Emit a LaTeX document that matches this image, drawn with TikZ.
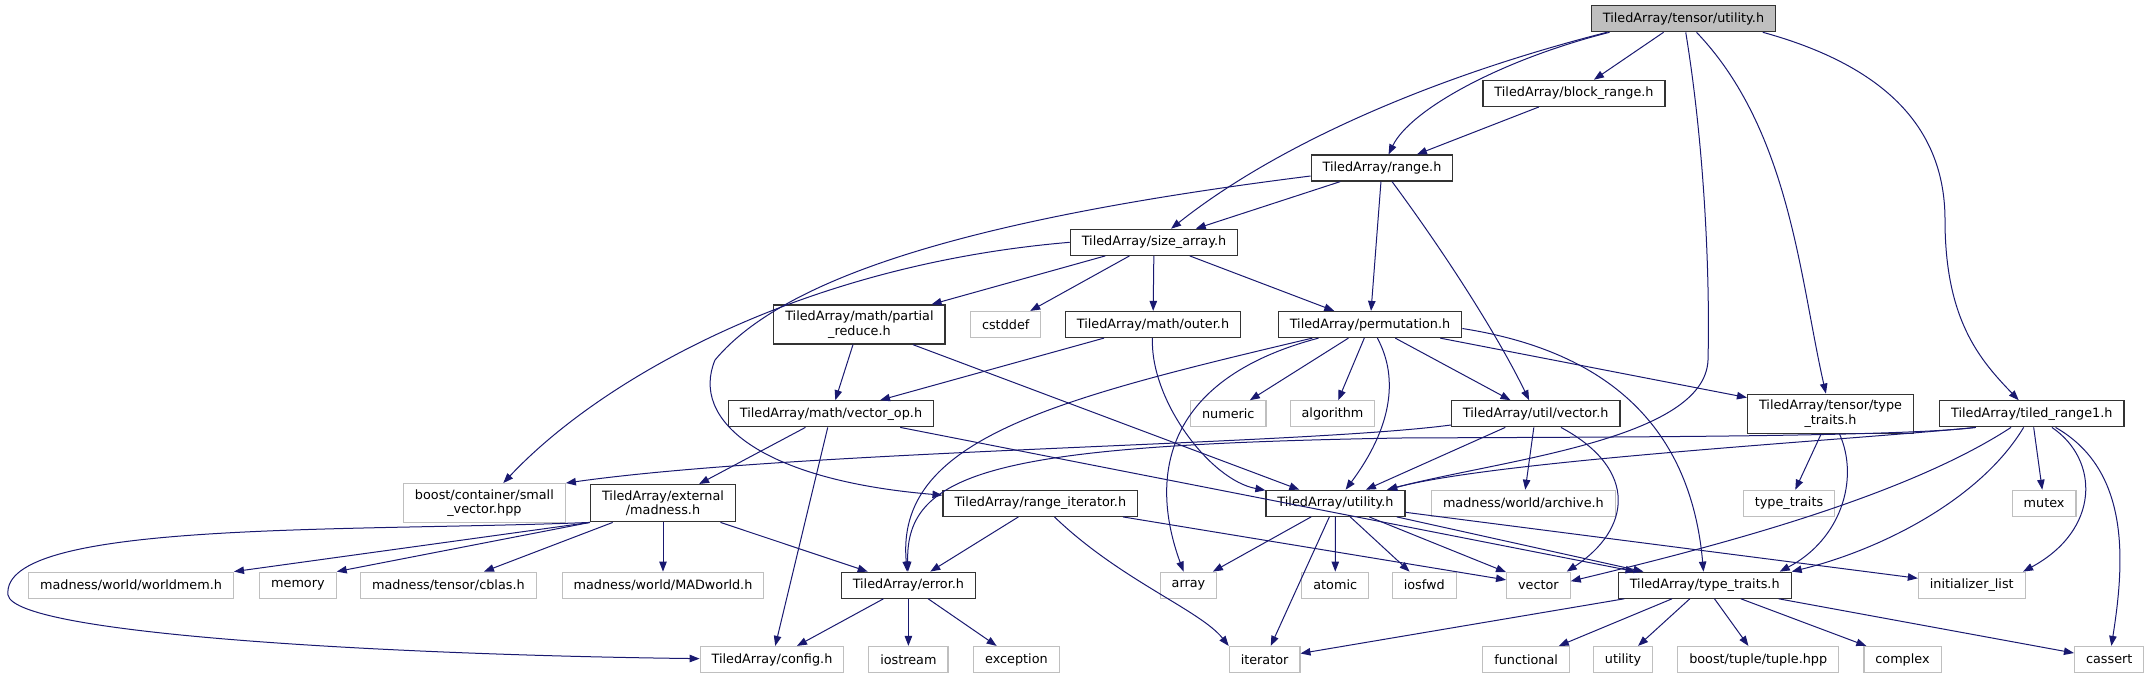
\documentclass[tikz,border=0pt]{standalone}
\usepackage{fontspec}
\setmainfont{DejaVu Sans}
\usetikzlibrary{arrows.meta}
\definecolor{edgeblue}{HTML}{191970}
\definecolor{lightgray}{HTML}{BFBFBF}

\begin{document}
\begin{tikzpicture}[
    x=0.75pt, y=-0.75pt,
    every node/.style={draw=black!80, line width=0.9pt, rectangle, align=center, fill=white, inner xsep=8.6pt, inner ysep=4.5pt, minimum height=19.5pt, font=\fontsize{9.6}{10.75}\selectfont},
    ext/.style={draw=lightgray},
    root/.style={fill=lightgray},
    arrow/.style={-{Triangle[length=7.5pt,width=5.6pt]}, line width=0.75pt, draw=edgeblue}
]
  \useasboundingbox (0,0) rectangle (2149,679);

  \node[root] (tu) at (1683.5,18.7) {TiledArray/tensor/utility.h};
  \node (blockrange) at (1574,93.3) {TiledArray/block\_range.h};
  \node (range) at (1382,168) {TiledArray/range.h};
  \node (sizearray) at (1154,242.3) {TiledArray/size\_array.h};

  \node (partial) at (859.4,324.5) {TiledArray/math/partial\\\_reduce.h};
  \node[ext] (cstddef) at (1005.7,324.5) {cstddef};
  \node (outer) at (1153,324.5) {TiledArray/math/outer.h};
  \node (perm) at (1370,324.5) {TiledArray/permutation.h};

  \node (vectorop) at (831,413.8) {TiledArray/math/vector\_op.h};
  \node[ext] (numeric) at (1228.3,413.8) {numeric};
  \node[ext] (algorithm) at (1332.5,413.8) {algorithm};
  \node (utilvector) at (1535.7,413.8) {TiledArray/util/vector.h};
  \node (ttraits) at (1830.5,413.7) {TiledArray/tensor/type\\\_traits.h};
  \node (trange) at (2031.8,413.8) {TiledArray/tiled\_range1.h};

  \node[ext] (smallvec) at (484.4,503.2) {boost/container/small\\\_vector.hpp};
  \node (madness) at (663,503.2) {TiledArray/external\\/madness.h};
  \node (rangeiter) at (1040.3,503.3) {TiledArray/range\_iterator.h};
  \node (utility) at (1335.5,503.3) {TiledArray/utility.h};
  \node[ext] (archive) at (1523.4,503.3) {madness/world/archive.h};
  \node[ext] (stdtraits) at (1789,503.3) {type\_traits};
  \node[ext] (mutex) at (2044.1,503.3) {mutex};

  \node[ext] (worldmem) at (131,585.2) {madness/world/worldmem.h};
  \node[ext] (memory) at (297.9,585.2) {memory};
  \node[ext] (cblas) at (448.4,585.2) {madness/tensor/cblas.h};
  \node[ext] (madworld) at (663,585.2) {madness/world/MADworld.h};
  \node (error) at (908.4,585.2) {TiledArray/error.h};
  \node[ext] (array) at (1188.5,585.2) {array};
  \node[ext] (atomic) at (1335.2,585.2) {atomic};
  \node[ext] (iosfwd) at (1424.3,585.2) {iosfwd};
  \node[ext] (vector) at (1538.4,585.2) {vector};
  \node (typetraits) at (1704.7,585.2) {TiledArray/type\_traits.h};
  \node[ext] (initlist) at (1971.8,585.2) {initializer\_list};

  \node[ext] (config) at (772,659.5) {TiledArray/config.h};
  \node[ext] (iostream) at (908.4,659.5) {iostream};
  \node[ext] (exception) at (1016.4,659.5) {exception};
  \node[ext] (iterator) at (1264.6,659.5) {iterator};
  \node[ext] (functional) at (1526.1,659.5) {functional};
  \node[ext] (stdutility) at (1623.1,659.5) {utility};
  \node[ext] (tuple) at (1758.2,659.5) {boost/tuple/tuple.hpp};
  \node[ext] (complex) at (1902.5,659.5) {complex};
  \node[ext] (cassert) at (2109.2,659.5) {cassert};

  % includes of the top file
  \draw[arrow] (tu) -- (blockrange);
  \draw[arrow] ([xshift=14pt]tu.south west) .. controls (1500,60) and (1410,110) .. (range);
  \draw[arrow] ([xshift=12pt]tu.south west) .. controls (1420,80) and (1270,150) .. (sizearray);
  \draw[arrow] (tu) .. controls (1705,150) and (1710,280) .. (1708,360) .. controls (1705,440) and (1500,460) .. (utility);
  \draw[arrow] (tu) .. controls (1790,130) and (1800,280) .. (ttraits);
  \draw[arrow] ([xshift=-10pt]tu.south east) .. controls (1900,70) and (1945,140) .. (1945,220) .. controls (1945,320) and (1980,360) .. (trange);

  \draw[arrow] (blockrange) -- (range);
  \draw[arrow] (range) -- (sizearray);
  \draw[arrow] (range) -- (perm);
  \draw[arrow] (range) .. controls (1450,260) and (1500,340) .. (utilvector);
  \draw[arrow] ([yshift=-6pt]range.west) .. controls (1000,215) and (790,270) .. (715,360) .. controls (690,420) and (760,480) .. (rangeiter);

  \draw[arrow] (sizearray.west) .. controls (800,265) and (600,380) .. (smallvec);
  \draw[arrow] (sizearray) -- (partial);
  \draw[arrow] (sizearray) -- (cstddef);
  \draw[arrow] (sizearray) -- (outer);
  \draw[arrow] (sizearray) -- (perm);

  \draw[arrow] (partial) -- (vectorop);
  \draw[arrow] (partial) -- (utility);
  \draw[arrow] (outer) -- (vectorop);
  \draw[arrow] (outer) .. controls (1150,400) and (1210,480) .. (utility);

  % permutation.h
  \draw[arrow] (perm) -- (numeric);
  \draw[arrow] (perm) -- (algorithm);
  \draw[arrow] (perm) -- (utilvector);
  \draw[arrow] (perm) -- (ttraits);
  \draw[arrow] (perm) .. controls (1400,380) and (1390,430) .. (utility);
  \draw[arrow] ([yshift=-3pt]perm.east) .. controls (1600,350) and (1690,420) .. (typetraits);
  \draw[arrow] (perm) .. controls (1160,380) and (1150,480) .. (array);
  \draw[arrow] (perm) .. controls (1050,400) and (895,440) .. (error);

  \draw[arrow] (vectorop) -- (madness);
  \draw[arrow] (vectorop) -- (config);
  \draw[arrow] (vectorop) -- (typetraits);

  \draw[arrow] (utilvector) .. controls (1300,445) and (800,450) .. (smallvec.north east);
  \draw[arrow] (utilvector) -- (utility);
  \draw[arrow] (utilvector) -- (archive);
  \draw[arrow] (utilvector) .. controls (1640,470) and (1630,530) .. ([xshift=-3pt]vector.north east);

  \draw[arrow] (ttraits) -- (stdtraits);
  \draw[arrow] (ttraits) .. controls (1860,480) and (1840,540) .. ([xshift=-9pt]typetraits.north east);

  % tiled_range1.h
  \draw[arrow] ([xshift=-42pt]trange.south) .. controls (1900,437) and (1600,437) .. (1400,438) .. controls (1000,445) and (905,470) .. (error);
  \draw[arrow] ([xshift=-42pt]trange.south) .. controls (1850,440) and (1500,460) .. (utility);
  \draw[arrow] (trange) .. controls (1900,500) and (1700,550) .. ([yshift=3pt]vector.east);
  \draw[arrow] (trange) .. controls (1980,500) and (1880,550) .. (typetraits.north east);
  \draw[arrow] (trange) -- (mutex);
  \draw[arrow] (trange) .. controls (2100,460) and (2100,530) .. ([xshift=-2pt]initlist.north east);
  \draw[arrow] (trange) .. controls (2130,470) and (2125,560) .. (cassert);

  % external/madness.h
  \draw[arrow] (madness.south west) -- (worldmem.north east);
  \draw[arrow] (madness.south west) -- (memory.north east);
  \draw[arrow] (madness) -- (cblas);
  \draw[arrow] (madness) -- (madworld);
  \draw[arrow] (madness) -- (error);
  \draw[arrow] (madness.south west) .. controls (350,532) and (0,520) .. (8,595) .. controls (15,635) and (400,655) .. (config);

  \draw[arrow] (rangeiter) -- (error);
  \draw[arrow] (rangeiter) .. controls (1120,580) and (1200,610) .. (iterator.north west);
  \draw[arrow] (rangeiter) -- (vector);

  % utility.h
  \draw[arrow] (utility) -- (array);
  \draw[arrow] (utility) -- (iterator);
  \draw[arrow] (utility) -- (atomic);
  \draw[arrow] (utility) -- (iosfwd);
  \draw[arrow] (utility) -- (vector);
  \draw[arrow] (utility) -- (typetraits);
  \draw[arrow] (utility) -- (initlist);

  \draw[arrow] (error) -- (config);
  \draw[arrow] (error) -- (iostream);
  \draw[arrow] (error) -- (exception);

  % type_traits.h
  \draw[arrow] (typetraits) -- (iterator);
  \draw[arrow] (typetraits) -- (functional);
  \draw[arrow] (typetraits) -- (stdutility);
  \draw[arrow] (typetraits) -- (tuple);
  \draw[arrow] (typetraits) -- (complex);
  \draw[arrow] (typetraits) -- (cassert);
\end{tikzpicture}
\end{document}
